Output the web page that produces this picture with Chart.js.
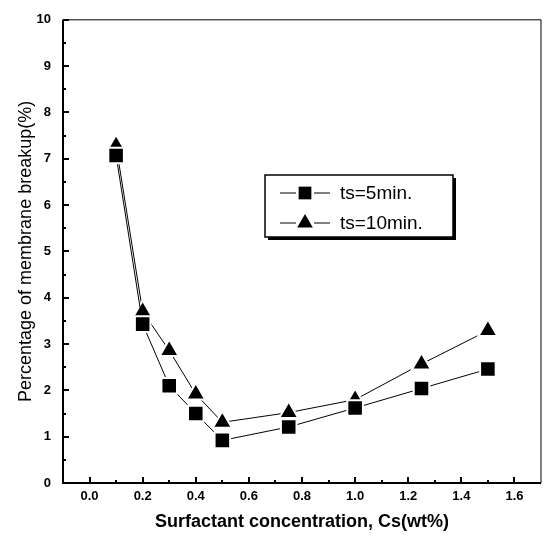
<!DOCTYPE html>
<html>
<head>
<meta charset="utf-8">
<script src="https://cdn.jsdelivr.net/npm/chart.js@4/dist/chart.umd.min.js"></script>
<style>
 body{ margin:0; background:#fff; }
 canvas{ display:block; }
</style>
</head>
<body>
<canvas id="chart" width="554" height="537"></canvas>
<script>

// values
const conc = [0.1, 0.2, 0.3, 0.4, 0.5, 0.75, 1.0, 1.25, 1.5];
const ts5 = [7.07, 3.43, 2.1, 1.5, 0.92, 1.21, 1.62, 2.04, 2.46];
const ts10 = [7.28, 3.7, 2.86, 1.92, 1.31, 1.52, 1.8, 2.57, 3.29];
const seriesNames = ["ts=5min.", "ts=10min."];
const xTicks = [0.0, 0.2, 0.4, 0.6, 0.8, 1.0, 1.2, 1.4, 1.6];
const yTicks = [0, 1, 2, 3, 4, 5, 6, 7, 8, 9, 10];

const pts = ys => conc.map((x,i)=>({x:x, y:ys[i]}));

// frame + inward tick marks, legend box
const framePlugin = {
 id:'frame',
 beforeDatasetsDraw(c){
   const ctx = c.ctx, a = c.chartArea;
   const xs = c.scales.x, ys = c.scales.y;
   ctx.save();
   ctx.strokeStyle = '#000';
   ctx.lineWidth = 1;
   ctx.beginPath();
   ctx.moveTo(a.left, a.top); ctx.lineTo(a.right, a.top); ctx.lineTo(a.right, a.bottom);
   ctx.stroke();
   ctx.lineWidth = 2;
   ctx.beginPath();
   ctx.moveTo(a.left, a.top); ctx.lineTo(a.left, a.bottom); ctx.lineTo(a.right, a.bottom);
   ctx.stroke();
   for(let v = 0; v <= 16; v++){
     const px = Math.round(xs.getPixelForValue(v/10));
     const len = v % 2 === 0 ? 6 : 3;
     ctx.beginPath(); ctx.moveTo(px, a.bottom); ctx.lineTo(px, a.bottom - len); ctx.stroke();
   }
   for(let v = 0; v <= 20; v++){
     const py = Math.round(ys.getPixelForValue(v/2));
     const len = v % 2 === 0 ? 6 : 3;
     ctx.beginPath(); ctx.moveTo(a.left, py); ctx.lineTo(a.left + len, py); ctx.stroke();
   }
   ctx.restore();
 },
 afterDraw(c){
   const ctx = c.ctx;
   const bx = 265, by = 175, bw = 188, bh = 62;
   ctx.save();
   ctx.fillStyle = '#000';
   ctx.fillRect(bx + 3, by + bh, bw, 3);
   ctx.fillRect(bx + bw, by + 3, 3, bh);
   ctx.fillStyle = '#fff';
   ctx.fillRect(bx, by, bw, bh);
   ctx.strokeStyle = '#000';
   ctx.lineWidth = 1.5;
   ctx.strokeRect(bx, by, bw, bh);
   ctx.font = '19px "Liberation Sans", Arial, sans-serif';
   ctx.textBaseline = 'middle';
   c.data.datasets.forEach((ds, i)=>{
     const y = by + 18 + i * 30;
     ctx.strokeStyle = '#000';
     ctx.lineWidth = 1;
     ctx.beginPath(); ctx.moveTo(280, y); ctx.lineTo(296, y); ctx.moveTo(314, y); ctx.lineTo(330, y); ctx.stroke();
     ctx.fillStyle = '#000';
     Chart.helpers.drawPoint(ctx, {pointStyle: ds.pointStyle, radius: 9, borderWidth: 0, rotation: 0}, 305, y);
     ctx.fillStyle = '#000';
     ctx.fillText(ds.label, 340, y + 1);
   });
   ctx.restore();
 }
};

new Chart(document.getElementById("chart"),{
 type:'scatter',
 data:{
   datasets:[
     {
       label: seriesNames[0],
       data: pts(ts5),
       showLine:true,
       borderColor:'#000',
       borderWidth:1,
       pointStyle:'rect',
       pointRadius:11,
       pointBackgroundColor:'#000',
       pointBorderColor:'#fff',
       pointBorderWidth:2
     },
     {
       label: seriesNames[1],
       data: pts(ts10),
       showLine:true,
       borderColor:'#000',
       borderWidth:1,
       pointStyle:'triangle',
       pointRadius:11,
       pointBackgroundColor:'#000',
       pointBorderColor:'#fff',
       pointBorderWidth:2
     }
   ]
 },
 options:{
   responsive:false,
   animation:false,
   devicePixelRatio:1,
   layout:{ padding:{ left:0, right:9, top:11, bottom:0 } },
   plugins:{ legend:{ display:false }, tooltip:{ enabled:false } },
   scales:{
     x:{
       type:'linear',
       min:-0.1, max:1.7,
       afterBuildTicks: s => { s.ticks = xTicks.map(v=>({value:v})); },
       afterFit: s => { s.height = 54; },
       grid:{ display:false, drawTicks:false },
       border:{ display:false },
       ticks:{
         color:'#000',
         padding:6,
         maxRotation:0,
         autoSkip:false,
         font:{ family:'"Liberation Sans", Arial, sans-serif', size:13, weight:'bold' },
         callback: v => Number(v).toFixed(1)
       },
       title:{
         display:true,
         text:'Surfactant concentration, Cs(wt%)',
         color:'#000',
         padding:{ top:0, bottom:4 },
         font:{ family:'"Liberation Sans", Arial, sans-serif', size:18, weight:'bold' }
       }
     },
     y:{
       min:0, max:10,
       afterBuildTicks: s => { s.ticks = yTicks.map(v=>({value:v})); },
       afterFit: s => { s.width = 63; },
       grid:{ display:false, drawTicks:false },
       border:{ display:false },
       ticks:{
         color:'#000',
         padding:12,
         font:{ family:'"Liberation Sans", Arial, sans-serif', size:13, weight:'bold' }
       },
       title:{
         display:true,
         text:'Percentage of membrane breakup(%)',
         color:'#000',
         padding:{ top:15, bottom:0 },
         font:{ family:'"Liberation Sans", Arial, sans-serif', size:18, weight:'normal' }
       }
     }
   }
 },
 plugins:[framePlugin]
});
</script>
</body>
</html>
